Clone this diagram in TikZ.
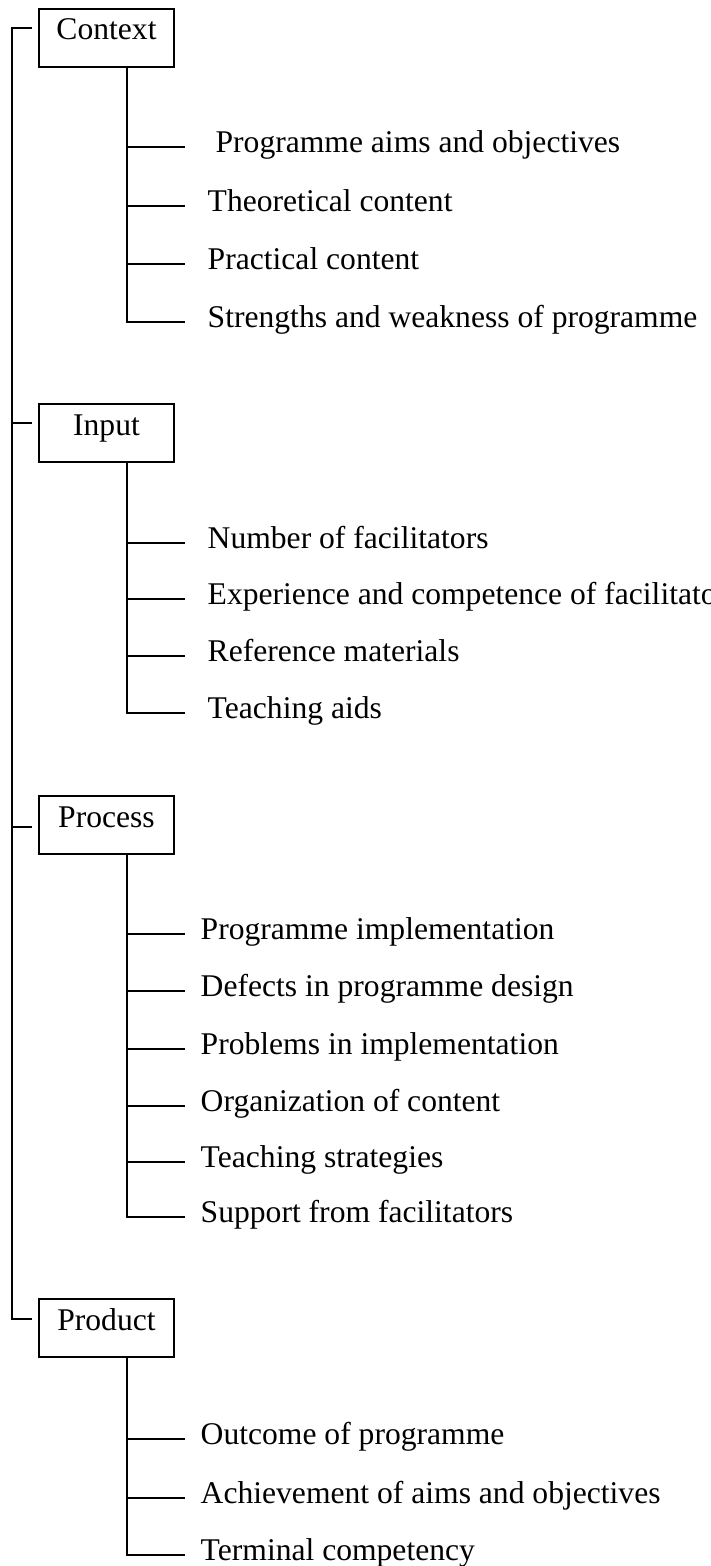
\documentclass[tikz,border=0pt]{standalone}
\usepackage{fontspec}
\setmainfont{Liberation Serif}
\begin{document}
\begin{tikzpicture}[x=0.75pt,y=-0.75pt,
  line width=1.1pt,
  txt/.style={font=\fontsize{23.7}{28}\selectfont},
  catbox/.style={txt, draw, rectangle, minimum width=101.25pt, inner xsep=0pt,
    inner ysep=7.5pt, text height=15.75pt, text depth=12.75pt, anchor=base},
  leaf/.style={txt, anchor=west, inner ysep=0pt, text height=15pt, text depth=7.5pt},
  leafA/.style={leaf, inner xsep=16.5pt},
  leafB/.style={leaf, inner xsep=11.25pt}]
\useasboundingbox (0,0) rectangle (710,1566);

% category boxes
\node[catbox] (ctx) at (106.5,40) {Context};
\node[catbox] (inp) at (106.5,435) {Input};
\node[catbox] (prc) at (106.5,827) {Process};
\node[catbox] (prd) at (106.5,1330) {Product};

% spine and ticks
\coordinate (ctxt) at (32,28);
\coordinate (inpt) at (32,423);
\coordinate (prct) at (32,827);
\coordinate (prdt) at (32,1319);
\coordinate (sp0) at (12,28);
\coordinate (sp1) at (12,423);
\coordinate (sp2) at (12,827);
\draw (ctxt) -- (sp0) |- (prdt);
\draw (sp1) -- (inpt);
\draw (sp2) -- (prct);

% Context items
\node[leafA] (c1) at (185,147) {\ Programme aims and objectives};
\node[leafA] (c2) at (185,206) {Theoretical content};
\node[leafA] (c3) at (185,264) {Practical content};
\node[leafA] (c4) at (185,322) {Strengths and weakness of programme};
\coordinate (ctxv) at ([xshift=15.375pt]ctx.south);
\draw (ctxv) |- (c4.west);
\foreach \n in {c1,c2,c3} \draw (ctxv |- \n.west) -- (\n.west);

% Input items
\node[leafA] (i1) at (185,543) {Number of facilitators};
\node[leafA] (i2) at (185,599) {Experience and competence of facilitators};
\node[leafA] (i3) at (185,656) {Reference materials};
\node[leafA] (i4) at (185,713) {Teaching aids};
\coordinate (inpv) at ([xshift=15.375pt]inp.south);
\draw (inpv) |- (i4.west);
\foreach \n in {i1,i2,i3} \draw (inpv |- \n.west) -- (\n.west);

% Process items
\node[leafB] (p1) at (185,934) {Programme implementation};
\node[leafB] (p2) at (185,991) {Defects in programme design};
\node[leafB] (p3) at (185,1049) {Problems in implementation};
\node[leafB] (p4) at (185,1106) {Organization of content};
\node[leafB] (p5) at (185,1162) {Teaching strategies};
\node[leafB] (p6) at (185,1217) {Support from facilitators};
\coordinate (prcv) at ([xshift=15.375pt]prc.south);
\draw (prcv) |- (p6.west);
\foreach \n in {p1,p2,p3,p4,p5} \draw (prcv |- \n.west) -- (\n.west);

% Product items
\node[leafB] (d1) at (185,1439) {Outcome of programme};
\node[leafB] (d2) at (185,1498) {Achievement of aims and objectives};
\node[leafB] (d3) at (185,1555) {Terminal competency};
\coordinate (prdv) at ([xshift=15.375pt]prd.south);
\draw (prdv) |- (d3.west);
\foreach \n in {d1,d2} \draw (prdv |- \n.west) -- (\n.west);
\end{tikzpicture}
\end{document}
